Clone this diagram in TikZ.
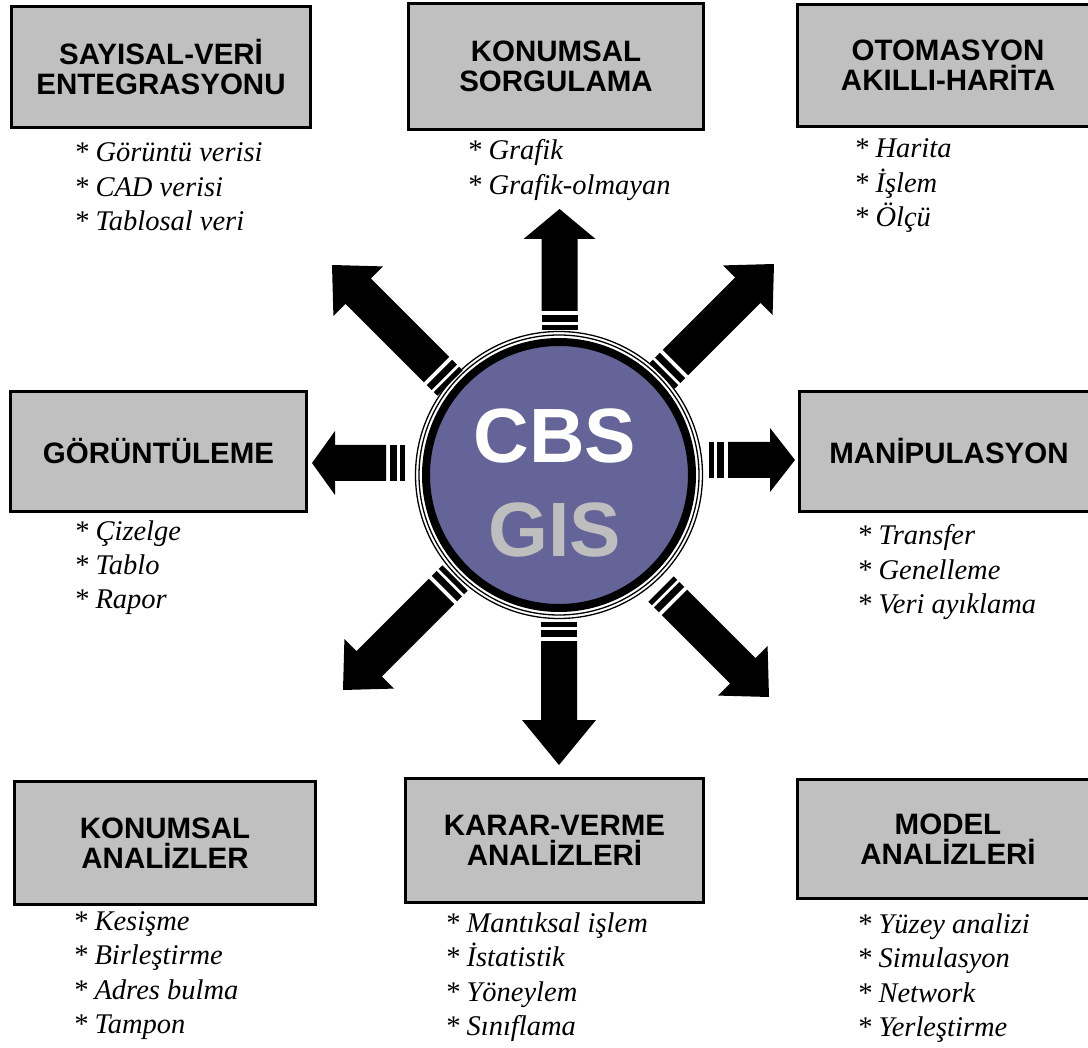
\documentclass[tikz,border=0pt]{standalone}
\usepackage{fontspec}
\setmainfont{Liberation Serif}
\setsansfont{Liberation Sans}
\usetikzlibrary{calc}

\definecolor{boxgray}{RGB}{192,192,192}
\definecolor{hubfill}{RGB}{100,100,152}
\definecolor{gisgray}{RGB}{190,190,190}

\tikzset{
  topic/.style={draw=black, line width=3pt, fill=boxgray, inner sep=0pt,
    align=center, font=\sffamily\bfseries\fontsize{29.5}{30}\selectfont},
  items/.style={anchor=base west, inner sep=0pt,
    font=\itshape\fontsize{28.5}{34.5}\selectfont},
  hubword/.style={anchor=base, inner sep=0pt,
    font=\sffamily\bfseries\fontsize{77}{80}\selectfont},
  ring/.style={draw=black, line width=1.3pt}
}

% one bulleted line of a list
\newcommand\itm[1]{*\ #1}

% striped block arrow: #1 base, #2 tip, #3 head length, #4 head half-width
\newcommand\blockarrow[4]{%
  \coordinate (ba1) at ($(#1)!5pt!(#2)$);
  \coordinate (ba2) at ($(#1)!8pt!(#2)$);
  \coordinate (ba3) at ($(#1)!15pt!(#2)$);
  \coordinate (ba4) at ($(#1)!19pt!(#2)$);
  \coordinate (ba5) at ($(#2)!#3pt!(#1)$);
  \fill ($(#1)!18pt!90:(#2)$) -- ($(ba1)!18pt!90:(#2)$)
     -- ($(ba1)!18pt!-90:(#2)$) -- ($(#1)!18pt!-90:(#2)$) -- cycle;
  \fill ($(ba2)!18pt!90:(#2)$) -- ($(ba3)!18pt!90:(#2)$)
     -- ($(ba3)!18pt!-90:(#2)$) -- ($(ba2)!18pt!-90:(#2)$) -- cycle;
  \fill ($(ba4)!18pt!90:(#2)$) -- ($(ba5)!18pt!90:(#2)$)
     -- ($(ba5)!#4pt!90:(#2)$) -- (#2) -- ($(ba5)!#4pt!-90:(#2)$)
     -- ($(ba5)!18pt!-90:(#2)$) -- ($(ba4)!18pt!-90:(#2)$) -- cycle;
}

\begin{document}
\begin{tikzpicture}[x=1pt, y=-1pt]
\useasboundingbox (0,0) rectangle (1088,1048);
\clip (0,0) rectangle (1088,1048);
\fill[white] (0,0) rectangle (1088,1048);

% topic boxes
\node[topic, minimum width=299pt, minimum height=121pt] (sayisal) at (161,67) {SAYISAL-VERİ\\ENTEGRASYONU};
\node[topic, minimum width=295pt, minimum height=126pt] (sorgu) at (556,66.5) {KONUMSAL\\SORGULAMA};
\node[topic, minimum width=302pt, minimum height=122pt] (otomasyon) at (948,65.5) {OTOMASYON\\AKILLI-HARİTA};
\node[topic, minimum width=296pt, minimum height=120pt] (goruntu) at (158.5,451.5) {GÖRÜNTÜLEME};
\node[topic, minimum width=299pt, minimum height=120pt] (manip) at (949,451.5) {MANİPULASYON};
\node[topic, minimum width=301pt, minimum height=123pt] (konanaliz) at (165,843) {KONUMSAL\\ANALİZLER};
\node[topic, minimum width=298pt, minimum height=124pt] (karar) at (554.5,840.5) {KARAR-VERME\\ANALİZLERİ};
\node[topic, minimum width=302pt, minimum height=119pt] (model) at (948,839) {MODEL\\ANALİZLERİ};

% item lists
\node[items] (l1) at (74,162) {\begin{tabular}[t]{@{}l@{}}\itm{Görüntü verisi}\\\itm{CAD verisi}\\\itm{Tablosal veri}\end{tabular}};
\node[items] (l2) at (467,160) {\begin{tabular}[t]{@{}l@{}}\itm{Grafik}\\\itm{Grafik-olmayan}\end{tabular}};
\node[items] (l3) at (854,158) {\begin{tabular}[t]{@{}l@{}}\itm{Harita}\\\itm{İşlem}\\\itm{Ölçü}\end{tabular}};
\node[items] (l4) at (74,540) {\begin{tabular}[t]{@{}l@{}}\itm{Çizelge}\\\itm{Tablo}\\\itm{Rapor}\end{tabular}};
\node[items] (l5) at (857,545) {\begin{tabular}[t]{@{}l@{}}\itm{Transfer}\\\itm{Genelleme}\\\itm{Veri ayıklama}\end{tabular}};
\node[items] (l6) at (73,930) {\begin{tabular}[t]{@{}l@{}}\itm{Kesişme}\\\itm{Birleştirme}\\\itm{Adres bulma}\\\itm{Tampon}\end{tabular}};
\node[items] (l7) at (445,932) {\begin{tabular}[t]{@{}l@{}}\itm{Mantıksal işlem}\\\itm{İstatistik}\\\itm{Yöneylem}\\\itm{Sınıflama}\end{tabular}};
\node[items] (l8) at (857,933) {\begin{tabular}[t]{@{}l@{}}\itm{Yüzey analizi}\\\itm{Simulasyon}\\\itm{Network}\\\itm{Yerleştirme}\end{tabular}};

% arrow ends
\coordinate (upB) at (559.5,330);   \coordinate (upT) at (559.5,209);
\coordinate (dnB) at (559,622);     \coordinate (dnT) at (559,765);
\coordinate (lfB) at (405,463);     \coordinate (lfT) at (312,463);
\coordinate (rtB) at (709,460);     \coordinate (rtT) at (795,460);
\coordinate (ulB) at (450,383);     \coordinate (ulT) at (332,265);
\coordinate (urB) at (662,376);     \coordinate (urT) at (774,264);
\coordinate (drB) at (661,589);     \coordinate (drT) at (769,697);
\coordinate (dlB) at (455,578);     \coordinate (dlT) at (343,690);

\blockarrow{upB}{upT}{30}{36}
\blockarrow{dnB}{dnT}{45}{37}
\blockarrow{lfB}{lfT}{23}{32}
\blockarrow{rtB}{rtT}{25}{32}
\blockarrow{ulB}{ulT}{37}{35}
\blockarrow{urB}{urT}{37}{35}
\blockarrow{drB}{drT}{37}{35}
\blockarrow{dlB}{dlT}{37}{35}

% central hub
\node[circle, fill=hubfill, draw=black, line width=8pt, minimum size=266pt, inner sep=0pt] (hub) at (559,475) {};
\draw[ring] (hub.center) circle[radius=140pt];
\draw[ring] (hub.center) circle[radius=143.5pt];
\node[hubword, text=white] (cbs) at (555,463) {CBS};
\node[hubword, text=gisgray] (gis) at (555,557) {GIS};
\end{tikzpicture}
\end{document}
